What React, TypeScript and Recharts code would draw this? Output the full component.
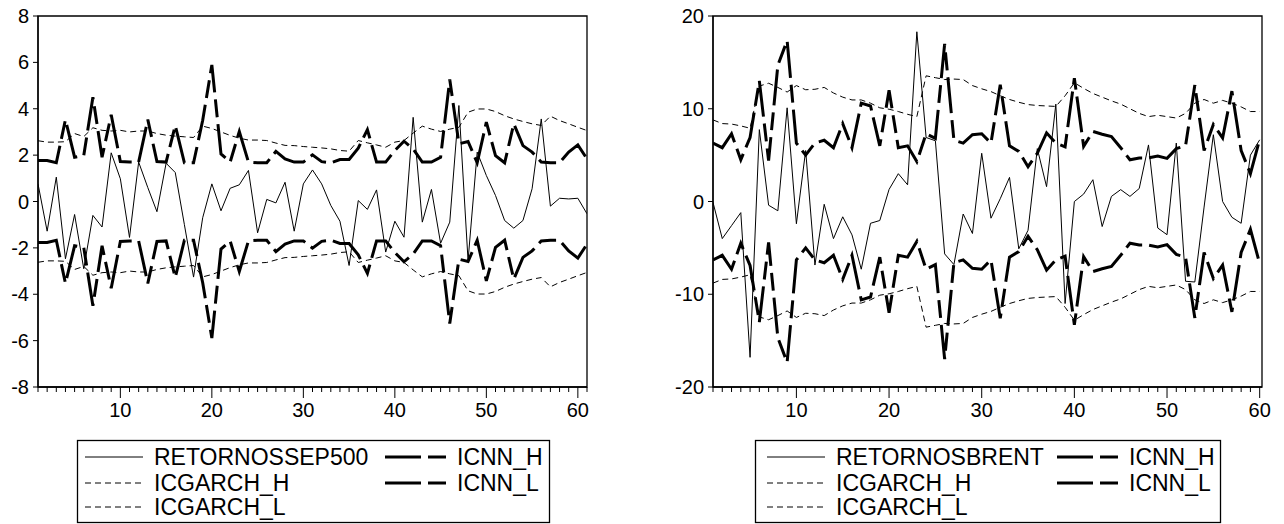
import React from 'react';
import { LineChart, Line, XAxis, YAxis, ReferenceArea } from 'recharts';

// S&P 500 panel (61 obs)
const SP_RET = [0.76, -1.28, 1.05, -2.47, -0.56, -2.9, -0.6, -1.1, 2.1, 0.98, -1.55, 1.7, 0.6, -0.44, 1.65, 1.25, -1.0, -3.26, -0.7, 0.76, -0.4, 0.57, 0.72, 1.34, -1.35, 0.09, -0.06, 0.83, -1.28, 0.76, 1.36, 0.76, -0.17, -0.85, -2.76, 0.04, -0.34, 0.5, -2.18, -0.85, -1.54, 3.63, -0.89, 0.52, -1.8, -0.89, 4.14, -2.55, 2.13, 1.12, 0.26, -0.82, -1.15, -0.82, 0.55, 3.56, -0.2, 0.14, 0.11, 0.14, -0.53];
const SP_GARCH_H = [2.62, 2.56, 2.56, 2.58, 2.93, 2.8, 3.18, 3.07, 3.04, 3.07, 3.0, 3.04, 3.04, 2.93, 2.86, 2.82, 2.79, 2.76, 3.25, 3.15, 3.0, 2.85, 2.73, 2.65, 2.65, 2.63, 2.52, 2.42, 2.41, 2.37, 2.34, 2.31, 2.27, 2.2, 2.17, 2.63, 2.53, 2.44, 2.34, 2.56, 2.63, 2.95, 3.25, 3.12, 3.02, 3.12, 3.2, 3.85, 3.99, 3.99, 3.88, 3.7, 3.56, 3.45, 3.35, 3.28, 3.68, 3.49, 3.35, 3.2, 3.06];
const SP_GARCH_L = [-2.62, -2.56, -2.56, -2.58, -2.93, -2.8, -3.18, -3.07, -3.04, -3.07, -3.0, -3.04, -3.04, -2.93, -2.86, -2.82, -2.79, -2.76, -3.25, -3.15, -3.0, -2.85, -2.73, -2.65, -2.65, -2.63, -2.52, -2.42, -2.41, -2.37, -2.34, -2.31, -2.27, -2.2, -2.17, -2.63, -2.53, -2.44, -2.34, -2.56, -2.63, -2.95, -3.25, -3.12, -3.02, -3.12, -3.2, -3.85, -3.99, -3.99, -3.88, -3.7, -3.56, -3.45, -3.35, -3.28, -3.68, -3.49, -3.35, -3.2, -3.06];
const SP_NN_H = [1.77, 1.77, 1.67, 3.53, 1.91, 1.98, 4.5, 1.91, 3.74, 1.72, 1.7, 1.7, 3.53, 1.72, 1.7, 3.28, 1.67, 1.67, 3.5, 5.89, 2.05, 1.7, 3.02, 1.7, 1.67, 1.67, 2.16, 1.84, 1.7, 1.7, 2.01, 1.72, 1.67, 1.81, 1.81, 2.3, 3.1, 1.7, 1.7, 2.2, 2.6, 2.27, 1.7, 1.7, 1.91, 5.26, 2.49, 2.59, 1.67, 3.42, 1.98, 1.67, 3.35, 2.41, 2.13, 1.7, 1.67, 1.67, 2.13, 2.44, 1.84];
const SP_NN_L = [-1.77, -1.77, -1.67, -3.53, -1.91, -1.98, -4.5, -1.91, -3.74, -1.72, -1.7, -1.7, -3.53, -1.72, -1.7, -3.28, -1.67, -1.67, -3.5, -5.89, -2.05, -1.7, -3.02, -1.7, -1.67, -1.67, -2.16, -1.84, -1.7, -1.7, -2.01, -1.72, -1.67, -1.81, -1.81, -2.3, -3.1, -1.7, -1.7, -2.2, -2.6, -2.27, -1.7, -1.7, -1.91, -5.26, -2.49, -2.59, -1.67, -3.42, -1.98, -1.67, -3.35, -2.41, -2.13, -1.7, -1.67, -1.67, -2.13, -2.44, -1.84];

// Brent panel (60 obs)
const BR_RET = [-0.1, -4.0, -2.6, -1.2, -16.8, 7.75, -0.4, -1.0, 10.1, -2.4, 5.5, -6.85, -0.3, -4.0, -1.65, -3.6, -7.3, -2.35, -2.05, 1.3, 3.0, 1.8, 18.3, 6.9, 6.55, -5.65, -6.8, -1.35, -3.45, 5.2, -1.8, 0.3, 2.6, -5.1, -3.1, 5.7, 1.6, 10.5, -11.0, 0.0, 0.8, 2.35, -2.7, 0.55, 1.28, 0.55, 1.4, 6.1, -2.86, -3.58, 6.3, -8.6, -8.68, -0.6, 7.2, 0.0, -1.7, -2.35, 5.0, 6.65];
const BR_GARCH_H = [8.8, 8.4, 8.35, 8.15, 7.9, 12.45, 12.75, 12.3, 11.8, 12.5, 12.05, 12.1, 12.3, 11.7, 11.25, 10.95, 10.95, 10.6, 10.1, 9.95, 9.7, 9.4, 9.15, 13.55, 13.35, 13.15, 13.2, 13.15, 12.5, 12.15, 11.85, 11.4, 11.0, 10.7, 10.45, 10.35, 10.3, 10.25, 11.4, 12.8, 12.2, 11.65, 11.25, 10.85, 10.5, 10.0, 9.5, 9.15, 9.3, 9.15, 9.0, 9.5, 10.6, 11.0, 10.6, 10.9, 10.6, 10.2, 9.7, 9.7];
const BR_GARCH_L = [-8.8, -8.4, -8.35, -8.15, -7.9, -12.45, -12.75, -12.3, -11.8, -12.5, -12.05, -12.1, -12.3, -11.7, -11.25, -10.95, -10.95, -10.6, -10.1, -9.95, -9.7, -9.4, -9.15, -13.55, -13.35, -13.15, -13.2, -13.15, -12.5, -12.15, -11.85, -11.4, -11.0, -10.7, -10.45, -10.35, -10.3, -10.25, -11.4, -12.8, -12.2, -11.65, -11.25, -10.85, -10.5, -10.0, -9.5, -9.15, -9.3, -9.15, -9.0, -9.5, -10.6, -11.0, -10.6, -10.9, -10.6, -10.2, -9.7, -9.7];
const BR_NN_H = [6.3, 5.8, 7.3, 4.5, 6.9, 13.0, 4.4, 14.7, 17.35, 6.3, 5.0, 6.3, 6.6, 5.8, 8.4, 5.8, 10.6, 10.3, 6.0, 12.0, 5.8, 6.0, 4.3, 7.3, 6.8, 17.0, 6.6, 6.3, 7.2, 7.3, 6.3, 12.6, 6.0, 5.4, 3.75, 5.2, 7.4, 6.3, 5.9, 13.3, 5.95, 7.55, 7.25, 7.0, 5.8, 4.5, 4.7, 4.7, 4.9, 4.65, 5.7, 6.0, 12.55, 5.5, 8.3, 6.85, 11.9, 5.5, 3.0, 6.7];
const BR_NN_L = [-6.3, -5.8, -7.3, -4.5, -6.9, -13.0, -4.4, -14.7, -17.35, -6.3, -5.0, -6.3, -6.6, -5.8, -8.4, -5.8, -10.6, -10.3, -6.0, -12.0, -5.8, -6.0, -4.3, -7.3, -6.8, -17.0, -6.6, -6.3, -7.2, -7.3, -6.3, -12.6, -6.0, -5.4, -3.75, -5.2, -7.4, -6.3, -5.9, -13.3, -5.95, -7.55, -7.25, -7.0, -5.8, -4.5, -4.7, -4.7, -4.9, -4.65, -5.7, -6.0, -12.55, -5.5, -8.3, -6.85, -11.9, -5.5, -3.0, -6.7];

const SP_Y_TICKS = [-8, -6, -4, -2, 0, 2, 4, 6, 8];
const BR_Y_TICKS = [-20, -10, 0, 10, 20];
const SP_NAMES = ['RETORNOSSEP500', 'ICGARCH_H', 'ICGARCH_L', 'ICNN_H', 'ICNN_L'];
const BR_NAMES = ['RETORNOSBRENT', 'ICGARCH_H', 'ICGARCH_L', 'ICNN_H', 'ICNN_L'];

const FONT = '"Liberation Sans", Arial, sans-serif';
const GARCH_DASH = '6 4';
const NN_DASH = '36 7 18 7';

const buildRows = (ret: number[], gh: number[], gl: number[], nh: number[], nl: number[]) =>
  ret.map((r, i) => ({ t: i + 1, ret: r, gh: gh[i], gl: gl[i], nh: nh[i], nl: nl[i] }));

const XTick = (props: any) => {
  const { x, y, payload } = props;
  const v = payload.value;
  const major = v % 10 === 0;
  return (
    <g>
      <line x1={x} x2={x} y1={y} y2={y + (major ? 11 : 5)} stroke="#000" strokeWidth={1} />
      {major && (
        <text x={x} y={y + 30} textAnchor="middle" fontSize={20} fontFamily={FONT} fill="#000">
          {v}
        </text>
      )}
    </g>
  );
};

type PanelProps = {
  rows: any[];
  width: number;
  yWidth: number;
  marginRight: number;
  xMax: number;
  yTicks: number[];
};

const Panel = ({ rows, width, yWidth, marginRight, xMax, yTicks }: PanelProps) => {
  const yMin = yTicks[0];
  const yMax = yTicks[yTicks.length - 1];
  const xTicks = rows.map((r) => r.t);
  return (
    <LineChart width={width} height={420} data={rows} margin={{ top: 16, right: marginRight, bottom: 3, left: 0 }}>
      <XAxis
        dataKey="t"
        type="number"
        domain={[1, xMax]}
        ticks={xTicks}
        interval={0}
        tickLine={false}
        tickSize={0}
        tickMargin={0}
        tick={<XTick />}
        height={30}
        axisLine={{ stroke: '#000', strokeWidth: 1.3 }}
        allowDataOverflow
      />
      <YAxis
        type="number"
        domain={[yMin, yMax]}
        ticks={yTicks}
        interval={0}
        width={yWidth}
        tickSize={5}
        tickMargin={4}
        tickLine={{ stroke: '#000' }}
        axisLine={{ stroke: '#000', strokeWidth: 1.3 }}
        tick={{ fontSize: 20, fill: '#000', fontFamily: FONT }}
      />
      <ReferenceArea x1={1} x2={xMax} y1={yMin} y2={yMax} fill="none" stroke="#000" strokeWidth={1.3} />
      <Line type="linear" dataKey="gh" stroke="#000" strokeWidth={1} strokeDasharray={GARCH_DASH} dot={false} activeDot={false} isAnimationActive={false} />
      <Line type="linear" dataKey="gl" stroke="#000" strokeWidth={1} strokeDasharray={GARCH_DASH} dot={false} activeDot={false} isAnimationActive={false} />
      <Line type="linear" dataKey="ret" stroke="#000" strokeWidth={1} dot={false} activeDot={false} isAnimationActive={false} />
      <Line type="linear" dataKey="nh" stroke="#000" strokeWidth={3} strokeDasharray={NN_DASH} dot={false} activeDot={false} isAnimationActive={false} />
      <Line type="linear" dataKey="nl" stroke="#000" strokeWidth={3} strokeDasharray={NN_DASH} dot={false} activeDot={false} isAnimationActive={false} />
    </LineChart>
  );
};

const LegendBox = ({ left, width, names, col1, col2 }: { left: number; width: number; names: string[]; col1: number; col2: number }) => {
  const rowsY = [457, 483, 507];
  const txt = { fontSize: 23, fontFamily: FONT, fill: '#000' };
  return (
    <g>
      <rect x={left + 0.5} y={440.5} width={width} height={82} fill="#fff" stroke="#000" strokeWidth={1.3} />
      <line x1={col1} x2={col1 + 58} y1={rowsY[0]} y2={rowsY[0]} stroke="#000" strokeWidth={1} />
      <line x1={col1} x2={col1 + 58} y1={rowsY[1]} y2={rowsY[1]} stroke="#000" strokeWidth={1} strokeDasharray={GARCH_DASH} />
      <line x1={col1} x2={col1 + 58} y1={rowsY[2]} y2={rowsY[2]} stroke="#000" strokeWidth={1} strokeDasharray={GARCH_DASH} />
      <text x={col1 + 69} y={rowsY[0] + 8} {...txt}>{names[0]}</text>
      <text x={col1 + 69} y={rowsY[1] + 8} {...txt}>{names[1]}</text>
      <text x={col1 + 69} y={rowsY[2] + 8} {...txt}>{names[2]}</text>
      <line x1={col2} x2={col2 + 62} y1={rowsY[0]} y2={rowsY[0]} stroke="#000" strokeWidth={3} strokeDasharray={NN_DASH} />
      <line x1={col2} x2={col2 + 62} y1={rowsY[1]} y2={rowsY[1]} stroke="#000" strokeWidth={3} strokeDasharray={NN_DASH} />
      <text x={col2 + 72} y={rowsY[0] + 8} {...txt}>{names[3]}</text>
      <text x={col2 + 72} y={rowsY[1] + 8} {...txt}>{names[4]}</text>
    </g>
  );
};

const App = () => {
  const spRows = buildRows(SP_RET, SP_GARCH_H, SP_GARCH_L, SP_NN_H, SP_NN_L);
  const brRows = buildRows(BR_RET, BR_GARCH_H, BR_GARCH_L, BR_NN_H, BR_NN_L);
  return (
    <div style={{ position: 'absolute', left: 0, top: 0, width: 1284, height: 524, background: '#fff', overflow: 'hidden' }}>
      <div style={{ position: 'absolute', left: 0, top: 0 }}>
        <Panel rows={spRows} width={600} yWidth={38} marginRight={13} xMax={61} yTicks={SP_Y_TICKS} />
      </div>
      <div style={{ position: 'absolute', left: 640, top: 0 }}>
        <Panel rows={brRows} width={640} yWidth={73} marginRight={18} xMax={60.25} yTicks={BR_Y_TICKS} />
      </div>
      <svg width={1284} height={524} style={{ position: 'absolute', left: 0, top: 0, pointerEvents: 'none' }}>
        <LegendBox left={77} width={472} names={SP_NAMES} col1={85} col2={385} />
        <LegendBox left={755} width={465} names={BR_NAMES} col1={767} col2={1057} />
      </svg>
    </div>
  );
};

export default App;
